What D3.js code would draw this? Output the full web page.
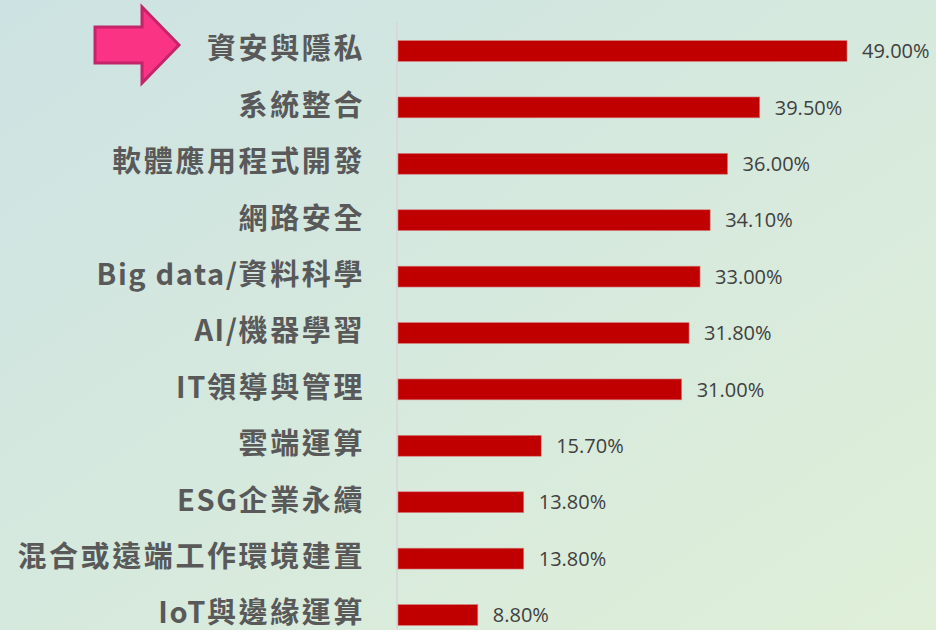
<!DOCTYPE html>
<html><head><meta charset="utf-8">
<script src="https://cdn.jsdelivr.net/npm/d3@7"></script>
<style>html,body{margin:0;padding:0;overflow:hidden;}svg{display:block;}</style>
</head><body>
<script>
const categories = ["資安與隱私","系統整合","軟體應用程式開發","網路安全","Big data/資料科學","AI/機器學習","IT領導與管理","雲端運算","ESG企業永續","混合或遠端工作環境建置","IoT與邊緣運算"];
const values = [49.0, 39.5, 36.0, 34.1, 33.0, 31.8, 31.0, 15.7, 13.8, 13.8, 8.8];
const valueLabels = ["49.00%","39.50%","36.00%","34.10%","33.00%","31.80%","31.00%","15.70%","13.80%","13.80%","8.80%"];

const W = 936, H = 630;
const svg = d3.select("body").append("svg").attr("width", W).attr("height", H);
const defs = svg.append("defs");
const grad = defs.append("linearGradient").attr("id","bg").attr("x1","0").attr("y1","0").attr("x2","1").attr("y2","1");
grad.append("stop").attr("offset","0").attr("stop-color","#cde3e3");
grad.append("stop").attr("offset","1").attr("stop-color","#dfefd8");
svg.append("rect").attr("width",W).attr("height",H).attr("fill","url(#bg)");

const x0 = 397;
const x = d3.scaleLinear().domain([0, 49]).range([x0, 847]);
const y = d3.scaleBand().domain(categories).range([22.8, 643.2]).paddingInner(0.63).paddingOuter(0.315);

// axis line
svg.append("line").attr("x1",x0).attr("x2",x0).attr("y1",22).attr("y2",H)
  .attr("stroke","#d9d9d9").attr("stroke-width",2);

// bars
svg.selectAll("rect.bar").data(values).enter().append("rect").attr("class","bar")
  .attr("x", x(0)+1).attr("y",(d,i)=>y(categories[i]))
  .attr("width", d=>x(d)-x(0)-1).attr("height", y.bandwidth())
  .attr("fill","#c00000").attr("stroke","#d88080").attr("stroke-width",0.6);

// value labels
svg.selectAll("text.val").data(values).enter().append("text").attr("class","val")
  .attr("x", d=>x(d)+15).attr("y",(d,i)=>y(categories[i])+y.bandwidth()/2)
  .attr("dy","0.36em")
  .attr("font-family","'Open Sans', 'Noto Sans', sans-serif").attr("font-size",20)
  .attr("fill","#404040").text((d,i)=>valueLabels[i]);

// category labels (Latin runs with tighter spacing)
const cats = svg.selectAll("text.cat").data(categories).enter().append("text").attr("class","cat")
  .attr("x", 365).attr("y", d=>y(d)+y.bandwidth()/2-2)
  .attr("dy","0.36em").attr("text-anchor","end")
  .attr("font-family","'Noto Sans CJK TC', sans-serif").attr("font-weight",700)
  .attr("font-size",29)
  .attr("fill","#595959");
cats.each(function(d){
  const t = d3.select(this);
  (d.match(/[\x00-\x7F]+|[^\x00-\x7F]+/g) || []).forEach(run=>{
    const latin = /^[\x00-\x7F]+$/.test(run);
    t.append("tspan").attr("letter-spacing", latin ? "1.6px" : "2.6px").text(run);
  });
});

// arrow
const arrowPts = [[95,27],[142,27],[142,7],[179,45],[142,83],[142,63],[95,63]];
svg.append("polygon").attr("points", arrowPts.map(p=>p.join(",")).join(" "))
  .attr("fill","#fb3384").attr("stroke","#c3246a").attr("stroke-width",3).attr("stroke-linejoin","miter");
</script>
</body></html>
